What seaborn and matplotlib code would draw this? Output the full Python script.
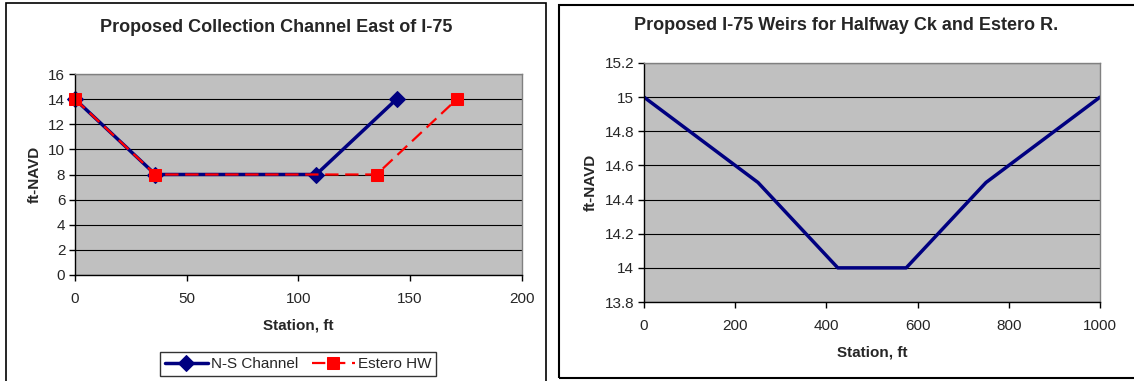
import matplotlib
matplotlib.use("Agg")
import matplotlib.pyplot as plt
import seaborn as sns
import pandas as pd
from matplotlib.patches import Rectangle

sns.set_theme(style="white")
plt.rcParams['font.family'] = ['Liberation Sans', 'DejaVu Sans']

# Left chart data
ns_station = [0, 36, 108, 144]
ns_elev = [14, 8, 8, 14]
est_station = [0, 36, 135, 171]
est_elev = [14, 8, 8, 14]

# Right chart data
weir_station = [0, 250, 425, 575, 750, 1000]
weir_elev = [15, 14.5, 14, 14, 14.5, 15]

W, H = 1134, 381
fig = plt.figure(figsize=(W / 100, H / 100), dpi=100)

def ax_px(l, t, r, b):
    return fig.add_axes([l / W, 1 - b / H, (r - l) / W, (b - t) / H])

# panel frames
fig.add_artist(Rectangle((6 / W, -0.1), (546 - 6) / W, 1.1 - 3 / H, transform=fig.transFigure,
                         fill=False, edgecolor='black', linewidth=1.2))
fig.add_artist(Rectangle((559 / W, 1 - 378 / H), (1140 - 559) / W, (378 - 5) / H, transform=fig.transFigure,
                         fill=False, edgecolor='black', linewidth=1.5))

def style_ax(ax):
    ax.set_facecolor('#C0C0C0')
    for s in ['top', 'right']:
        ax.spines[s].set_color('#808080')
        ax.spines[s].set_linewidth(1)
    for s in ['left', 'bottom']:
        ax.spines[s].set_color('black')
        ax.spines[s].set_linewidth(1)
    ax.yaxis.grid(True, color='black', linewidth=0.8)
    ax.xaxis.grid(False)
    ax.set_axisbelow(True)
    ax.tick_params(axis='both', which='major', length=4, width=1, color='black',
                   labelsize=11, direction='out', bottom=True, left=True, pad=3)

# Left chart
ax1 = ax_px(75, 74, 521.7, 275)
df_ns = pd.DataFrame({'x': ns_station, 'y': ns_elev})
df_est = pd.DataFrame({'x': est_station, 'y': est_elev})
sns.lineplot(data=df_ns, x='x', y='y', ax=ax1, color='#000080', linewidth=2.5,
             marker='D', markersize=8, markeredgecolor='#000080', label='N-S Channel', clip_on=False)
sns.lineplot(data=df_est, x='x', y='y', ax=ax1, color='#FF0000', linewidth=1.6,
             marker='s', markersize=9, markeredgecolor='#FF0000', label='Estero HW', clip_on=False)
ax1.lines[1].set_dashes([6, 3])
ax1.set_xlim(0, 200)
ax1.set_ylim(0, 16)
ax1.set_xticks([0, 50, 100, 150, 200])
ax1.set_yticks(range(0, 17, 2))
style_ax(ax1)
ax1.set_xlabel('Station, ft', fontsize=11, fontweight='bold', labelpad=9)
ax1.set_ylabel('ft-NAVD', fontsize=11, fontweight='bold', labelpad=5)
ax1.tick_params(axis='x', pad=8)
leg = ax1.legend(loc='center', bbox_to_anchor=((159 + 437) / 2 / W, 1 - 364 / H),
                 bbox_transform=fig.transFigure, ncol=2, frameon=True, fancybox=False,
                 edgecolor='black', fontsize=11, handlelength=2.8, handletextpad=0.2,
                 columnspacing=0.9, borderpad=0.3)
leg.get_frame().set_linewidth(1)
fig.text(276 / W, 1 - 28 / H, 'Proposed Collection Channel East of I-75', ha='center', va='center',
         fontsize=13, fontweight='bold')

# Right chart
ax2 = ax_px(644, 63, 1100, 302)
df_w = pd.DataFrame({'x': weir_station, 'y': weir_elev})
sns.lineplot(data=df_w, x='x', y='y', ax=ax2, color='#000080', linewidth=2.5, legend=False)
ax2.set_xlim(0, 1000)
ax2.set_ylim(13.8, 15.2)
ax2.set_xticks(range(0, 1001, 200))
ax2.set_yticks([13.8, 14, 14.2, 14.4, 14.6, 14.8, 15, 15.2])
ax2.set_yticklabels(['13.8', '14', '14.2', '14.4', '14.6', '14.8', '15', '15.2'])
style_ax(ax2)
ax2.tick_params(axis='x', pad=8)
ax2.set_xlabel('Station, ft', fontsize=11, fontweight='bold', labelpad=9)
ax2.set_ylabel('ft-NAVD', fontsize=11, fontweight='bold', labelpad=5)
fig.text(846 / W, 1 - 25 / H, 'Proposed I-75 Weirs for Halfway Ck and Estero R.', ha='center', va='center',
         fontsize=13, fontweight='bold')

fig.savefig('out.png', dpi=100, facecolor='white')
